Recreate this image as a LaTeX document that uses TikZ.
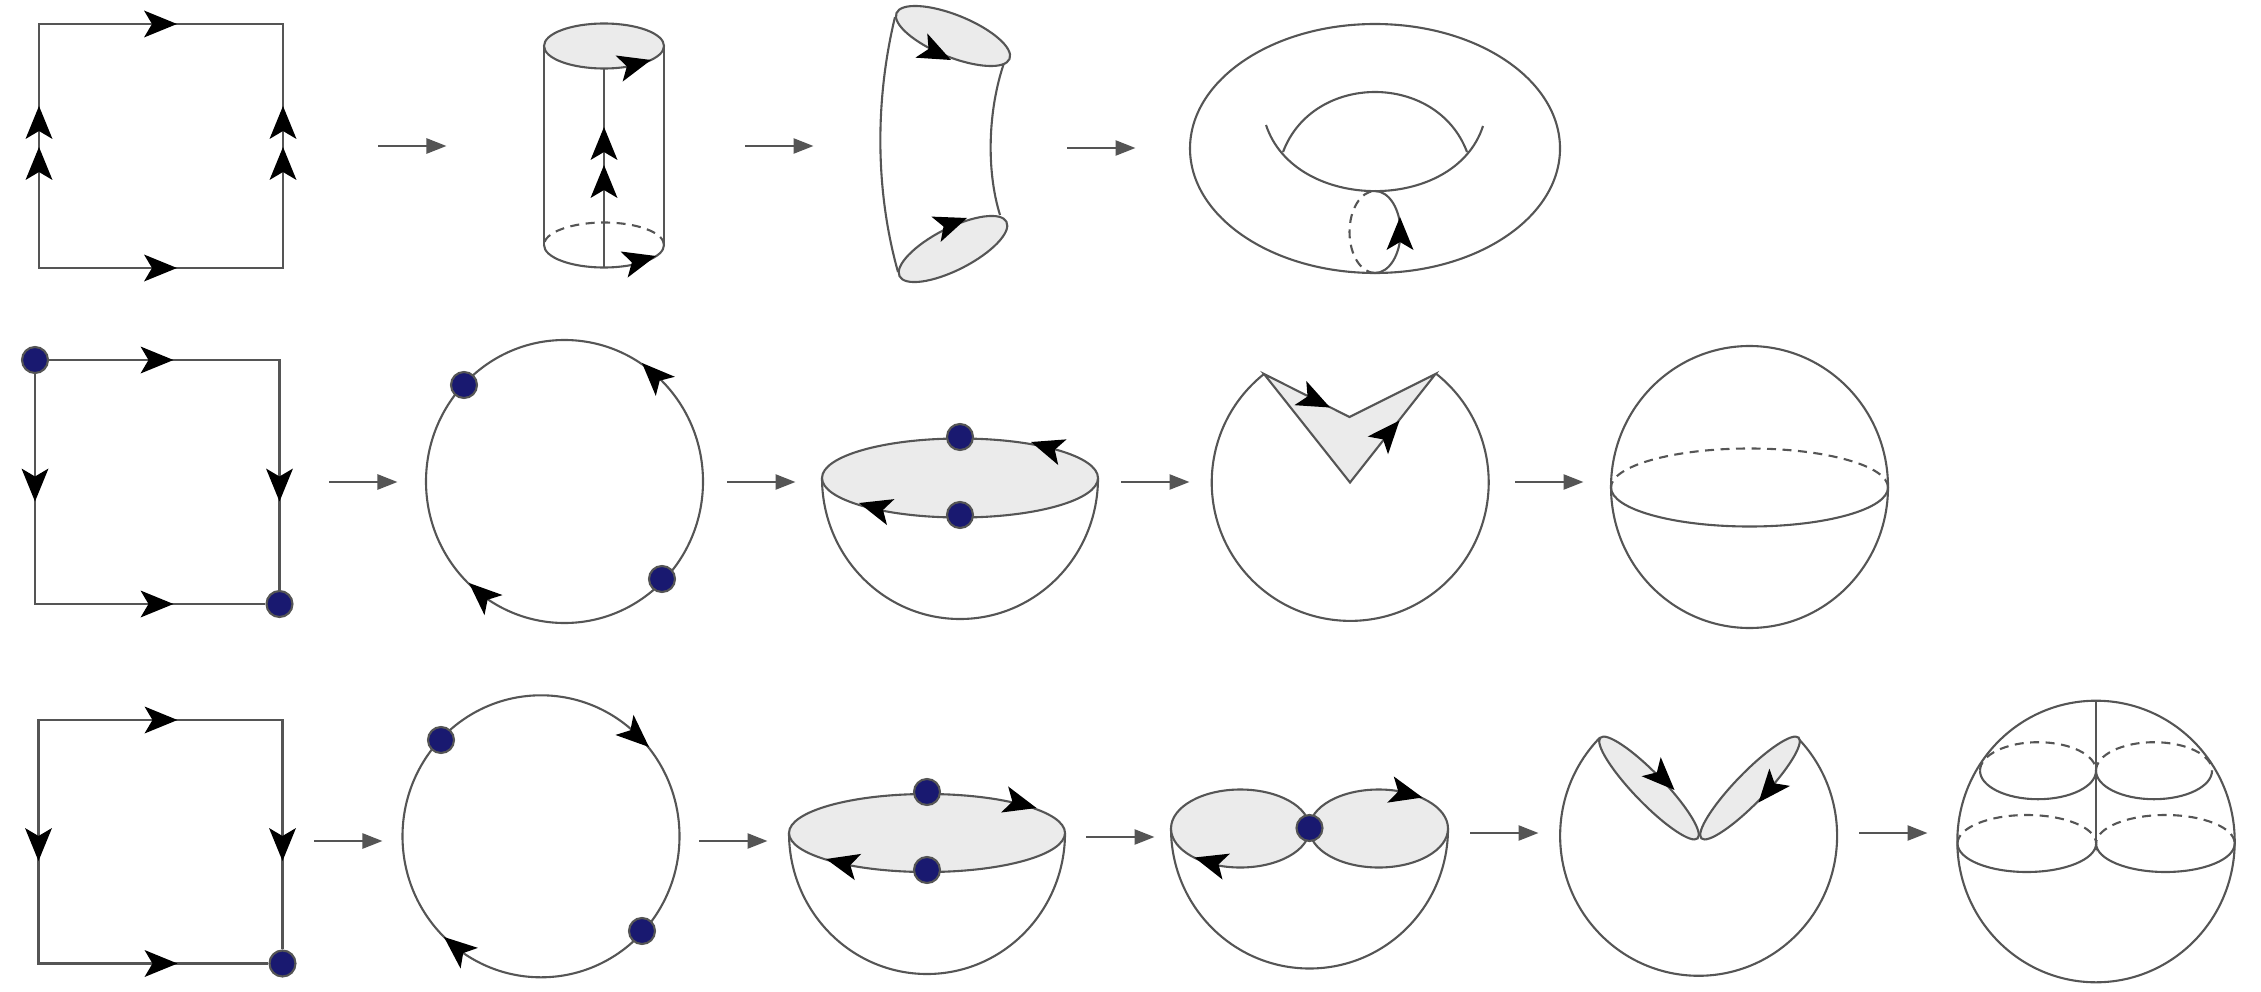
\documentclass[tikz,border=0pt]{standalone}
\usetikzlibrary{arrows.meta}
\definecolor{linegrey}{HTML}{555555}
\definecolor{rimfill}{HTML}{EBEBEB}
\definecolor{dotblue}{HTML}{191970}
\tikzset{
  line/.style  = {draw = linegrey, line width = 0.021cm},
  hidden/.style = {line, dash pattern = on 0.09cm off 0.065cm},
  rim/.style   = {line, fill = rimfill},
  dot/.style   = {draw = linegrey, fill = dotblue, circle, line width = 0.021cm, inner sep = 0pt, minimum size = 0.26cm},
  flow/.style  = {line, line width = 0.025cm, -{Triangle[length = 0.2cm, width = 0.15cm]}},
  barb/.pic    = {\fill[black] (0,0) -- (-33,-13.5) -- (-25,0) -- (-33,13.5) -- cycle;}
}
\begin{document}
\begin{tikzpicture}[x = 0.01cm, y = -0.01cm]
  \useasboundingbox (0,0) rectangle (2261,991);

  \foreach \n/\x/\y in {1/378/146, 2/745/146, 3/1067/148, 4/329/482, 5/727/482, 6/1121/482, 7/1515/482, 8/314/841, 9/699/841, 10/1086/837, 11/1470/833, 12/1859/833}{
    \coordinate (s\n) at (\x,\y);
    \coordinate (e\n) at (\x+68.5,\y);
    \draw[flow] (s\n) -- (e\n);
  }

  \coordinate (a1) at ( 39,  24);
  \coordinate (a2) at (283,  24);
  \coordinate (a3) at (283, 268);
  \coordinate (a4) at ( 39, 268);
  \draw[line] (a1) -- (a2) -- (a3) -- (a4) -- cycle;
  \pic[rotate = 0]  at (177,  24) {barb};
  \pic[rotate = 0]  at (177, 268) {barb};
  \pic[rotate = 90] at ( 39, 106) {barb};
  \pic[rotate = 90] at ( 39, 147) {barb};
  \pic[rotate = 90] at (283, 106) {barb};
  \pic[rotate = 90] at (283, 147) {barb};

  \coordinate (b1) at (544,  46);
  \coordinate (b2) at (664,  46);
  \coordinate (b3) at (664, 245);
  \coordinate (b4) at (544, 245);
  \coordinate (b5) at (604,  69);
  \coordinate (b6) at (604, 267);
  \draw[line] (b1) -- (b4);
  \draw[line] (b2) -- (b3);
  \draw[line] (b5) -- (b6);
  \draw[rim] (604,46) ellipse [x radius = 60, y radius = 22.5];
  \draw[line] (b4) arc [start angle = 180, end angle = 0, x radius = 60, y radius = 22.5];
  \draw[hidden] (b3) arc [start angle = 0, end angle = -180, x radius = 60, y radius = 22.5];
  \pic[rotate = 90] at (604, 127) {barb};
  \pic[rotate = 90] at (604, 165) {barb};
  \pic[rotate = 15] at (651,  60) {barb};
  \pic[rotate = 15] at (656, 256) {barb};

  \coordinate (c1) at ( 895,  17);
  \coordinate (c2) at ( 898, 272);
  \coordinate (c3) at (1004,  63);
  \coordinate (c4) at (1000, 215);
  \draw[line] (c1) .. controls (875,100) and (875,190) .. (c2);
  \draw[line] (c3) .. controls (988,110) and (986,170) .. (c4);
  \draw[rim, shift = {(953,36)},  rotate = -22] (0,0) ellipse [x radius = 61, y radius = 21];
  \draw[rim, shift = {(953,249)}, rotate = 27]  (0,0) ellipse [x radius = 60, y radius = 21];
  \pic[rotate = -26] at (951,  60) {barb};
  \pic[rotate = 20]  at (967, 218) {barb};

  \coordinate (d1) at (1266, 125);
  \coordinate (d2) at (1483, 126);
  \coordinate (d3) at (1283, 152);
  \coordinate (d4) at (1467, 152);
  \draw[line] (1375,148.5) ellipse [x radius = 185, y radius = 124.5];
  \draw[line] (d1) .. controls (1295,213) and (1455,213) .. (d2);
  \draw[line] (d3) .. controls (1313,72) and (1437,72) .. (d4);
  \coordinate (d5) at (1375, 191);
  \coordinate (d6) at (1375, 273);
  \draw[line] (d5) arc [start angle = -90, end angle = 90, x radius = 25.5, y radius = 41];
  \draw[hidden] (d6) arc [start angle = 90, end angle = 270, x radius = 25.5, y radius = 41];
  \pic[rotate = 90] at (1400, 217) {barb};

  \node[dot] at ( 35,   360) (f1) {};
  \node[dot] at (279.5, 604) (f2) {};
  \coordinate (f3) at (279.5, 360);
  \coordinate (f4) at ( 35,   604);
  \draw[line] (f1) -- (f3) -- (f2);
  \draw[line] (f1) -- (f4) -- (f2);
  \pic[rotate = 0]   at (173.5, 360) {barb};
  \pic[rotate = 0]   at (173.5, 604) {barb};
  \pic[rotate = -90] at ( 35,   501.5) {barb};
  \pic[rotate = -90] at (279.5, 501.5) {barb};

  \draw[line] (564.5,481.5) ellipse [x radius = 138.5, y radius = 141.5];
  \node[dot] at (464, 385) (g1) {};
  \node[dot] at (662, 579) (g2) {};
  \pic[rotate = 135] at (642, 363) {barb};
  \pic[rotate = 138] at (469, 583) {barb};

  \coordinate (h1) at ( 822, 478);
  \coordinate (h2) at (1098, 478);
  \draw[line] (h1) arc [start angle = 180, end angle = 0, x radius = 138, y radius = 141];
  \draw[rim] (960,478) ellipse [x radius = 138, y radius = 39.5];
  \node[dot] at (960, 437) (h3) {};
  \node[dot] at (960, 515) (h4) {};
  \pic[rotate = 162] at (1031, 442) {barb};
  \pic[rotate = 164] at ( 859, 503) {barb};

  \coordinate (i1) at (1264, 374);
  \coordinate (i2) at (1349.5, 417);
  \coordinate (i3) at (1435.5, 374);
  \coordinate (i4) at (1350, 482.5);
  \draw[line] (i1) arc [start angle = 231.5, end angle = -51.5, x radius = 138.5, y radius = 138.5];
  \draw[rim] (i1) -- (i2) -- (i3) -- (i4) -- cycle;
  \pic[rotate = -26] at (1330, 407.5) {barb};
  \pic[rotate = 49]  at (1399.5, 420.5) {barb};

  \coordinate (j1) at (1611, 487.5);
  \coordinate (j2) at (1888, 487.5);
  \draw[line] (1749.5,487) ellipse [x radius = 138.5, y radius = 141];
  \draw[line] (j1) arc [start angle = 180, end angle = 0, x radius = 138.5, y radius = 39];
  \draw[hidden] (j2) arc [start angle = 0, end angle = -180, x radius = 138.5, y radius = 39];

  \node[dot] at (282.5, 963.5) (k1) {};
  \coordinate (k2) at ( 38.5, 720);
  \coordinate (k3) at (282.5, 720);
  \coordinate (k4) at ( 38.5, 963.5);
  \draw[line] (k1) -- (k3) -- (k2) -- (k4) -- (k1);
  \pic[rotate = 0]   at (177.5, 720) {barb};
  \pic[rotate = 0]   at (177.5, 963.5) {barb};
  \pic[rotate = -90] at ( 38.5, 861) {barb};
  \pic[rotate = -90] at (282.5, 861) {barb};

  \draw[line] (541,836.3) ellipse [x radius = 138.5, y radius = 141];
  \node[dot] at (441, 740) (l1) {};
  \node[dot] at (642, 931) (l2) {};
  \pic[rotate = -42] at (649, 747) {barb};
  \pic[rotate = 140] at (444, 937) {barb};

  \coordinate (m1) at ( 789, 833);
  \coordinate (m2) at (1065, 833);
  \draw[line] (m1) arc [start angle = 180, end angle = 0, x radius = 138, y radius = 141];
  \draw[rim] (927,833) ellipse [x radius = 138, y radius = 39];
  \node[dot] at (927, 792) (m3) {};
  \node[dot] at (927, 870) (m4) {};
  \pic[rotate = -15] at (1036.5, 808) {barb};
  \pic[rotate = 166] at ( 826, 859) {barb};

  \coordinate (n1) at (1171, 828.5);
  \coordinate (n2) at (1448, 828.5);
  \draw[line] (n1) arc [start angle = 180, end angle = 0, x radius = 138.5, y radius = 140];
  \draw[rim] (1240.3,828.5) ellipse [x radius = 69.3, y radius = 39];
  \draw[rim] (1378.7,828.5) ellipse [x radius = 69.3, y radius = 39];
  \node[dot] at (1309.5, 828) (n3) {};
  \pic[rotate = 164] at (1194.5, 857.5) {barb};
  \pic[rotate = -14] at (1422.5, 797.5) {barb};

  \coordinate (o1) at (1600, 737.5);
  \draw[line] (o1) arc [start angle = 224.6, end angle = -44.6, x radius = 138.5, y radius = 140];
  \draw[rim, shift = {(1649,788)}, rotate = -46] (0,0) ellipse [x radius = 70, y radius = 15];
  \draw[rim, shift = {(1750,788)}, rotate = 46]  (0,0) ellipse [x radius = 70, y radius = 15];
  \pic[rotate = -45] at (1674.5, 790) {barb};
  \pic[rotate = 230] at (1758.5, 802.5) {barb};

  \coordinate (p1) at (2096, 700.7);
  \coordinate (p2) at (2096, 850);
  \coordinate (p3) at (1980, 770.7);
  \coordinate (p4) at (2212, 770.7);
  \coordinate (p5) at (1957.5, 843.5);
  \coordinate (p6) at (2235, 843.5);
  \draw[line] (2096,841.5) ellipse [x radius = 138.7, y radius = 140.8];
  \draw[line] (p1) -- (p2);
  \draw[line] (p3) arc [start angle = 180, end angle = 0, x radius = 58, y radius = 28.5]
                   arc [start angle = 180, end angle = 0, x radius = 58, y radius = 28.5];
  \draw[hidden] (p3) arc [start angle = -180, end angle = 0, x radius = 58, y radius = 28.5]
                     arc [start angle = -180, end angle = 0, x radius = 58, y radius = 28.5];
  \draw[line] (p5) arc [start angle = 180, end angle = 0, x radius = 69.3, y radius = 28.5]
                   arc [start angle = 180, end angle = 0, x radius = 69.3, y radius = 28.5];
  \draw[hidden] (p5) arc [start angle = -180, end angle = 0, x radius = 69.3, y radius = 28.5]
                     arc [start angle = -180, end angle = 0, x radius = 69.3, y radius = 28.5];
\end{tikzpicture}
\end{document}
